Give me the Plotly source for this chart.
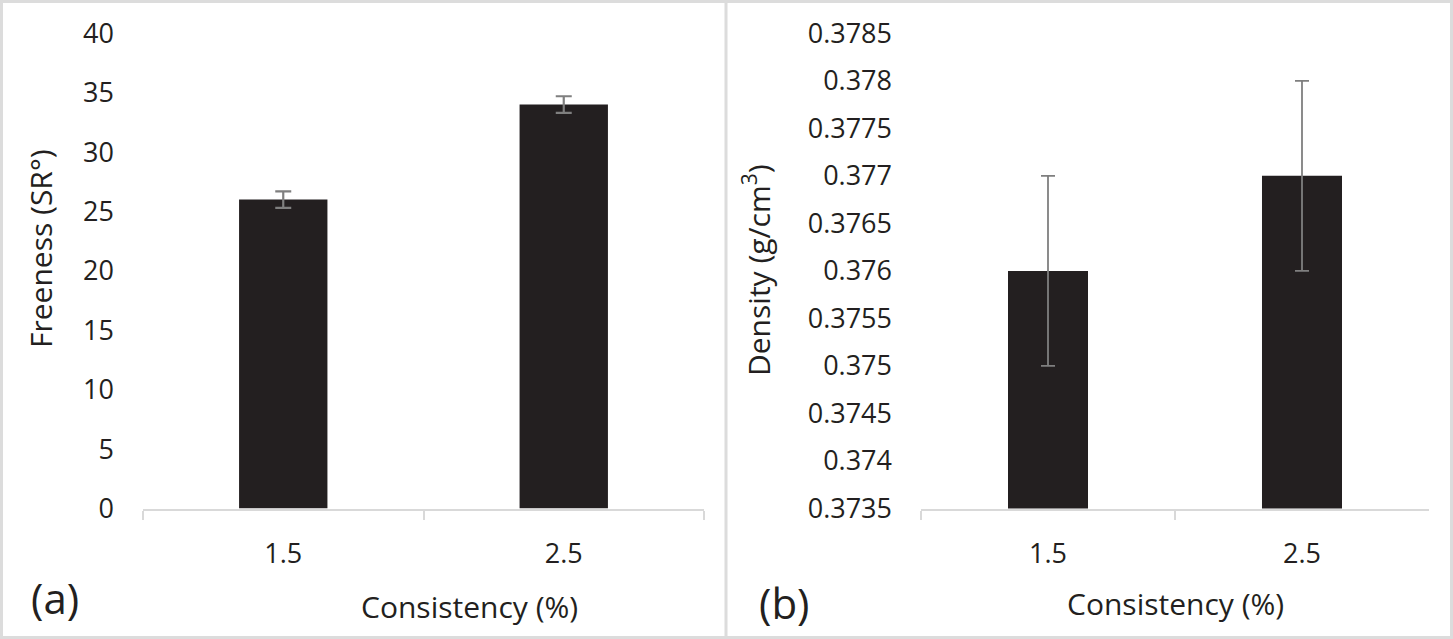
import plotly.graph_objects as go

# ---- data ----
consistency = ["1.5", "2.5"]
freeness = [26, 34]
freeness_err = [0.7, 0.7]
density = [0.376, 0.377]
density_err = [0.001, 0.001]

freeness_ticks = [0, 5, 10, 15, 20, 25, 30, 35, 40]
density_ticks = [0.3735, 0.374, 0.3745, 0.375, 0.3755, 0.376, 0.3765, 0.377, 0.3775, 0.378, 0.3785]
density_ticktext = ["0.3735", "0.374", "0.3745", "0.375", "0.3755", "0.376", "0.3765", "0.377", "0.3775", "0.378", "0.3785"]

W, H = 1453, 639
BAR = "#231f20"
ERR = "#7f7f7f"
AX = "#d9d9d9"
TXT = "#231f20"
FONT = "Open Sans"

fig = go.Figure()
fig.add_trace(go.Bar(
    x=consistency, y=freeness, marker=dict(color=BAR, line=dict(width=0)),
    error_y=dict(type="data", array=freeness_err, color=ERR, thickness=2.2, width=8),
    xaxis="x", yaxis="y", showlegend=False))
fig.add_trace(go.Bar(
    x=consistency, y=density, marker=dict(color=BAR, line=dict(width=0)),
    error_y=dict(type="data", array=density_err, color=ERR, thickness=1.8, width=7),
    xaxis="x2", yaxis="y2", showlegend=False))

ybot = 1 - 508.5 / H
ytop = 1 - 33.3 / H

xcommon = dict(type="category", showline=True, linecolor=AX, linewidth=2,
               ticks="outside", tickson="boundaries", ticklen=9, tickcolor=AX, tickwidth=2,
               showgrid=False, zeroline=False, ticklabelstandoff=20, automargin=False,
               tickfont=dict(family=FONT, size=27, color=TXT))
ycommon = dict(showline=False, showgrid=False, zeroline=False, ticks="", automargin=False,
               ticklabelstandoff=28, tickfont=dict(family=FONT, size=27, color=TXT))

fig.update_layout(
    template="none",
    width=W, height=H, margin=dict(l=0, r=0, t=0, b=0, pad=0),
    paper_bgcolor="white", plot_bgcolor="white", bargap=0.685,
    xaxis=dict(domain=[143 / W, 704 / W], anchor="y", **xcommon),
    yaxis=dict(domain=[ybot, ytop], anchor="x", range=[0, 40], tickvals=freeness_ticks, **ycommon),
    xaxis2=dict(domain=[921 / W, 1429 / W], anchor="y2", **xcommon),
    yaxis2=dict(domain=[ybot, ytop], anchor="x2", range=[0.3735, 0.3785],
                tickvals=density_ticks, ticktext=density_ticktext, **ycommon),
)

ann_font = dict(family=FONT, size=30, color=TXT)
fig.add_annotation(text="Freeness (SR°)", xref="paper", yref="paper", x=40 / W, y=1 - 249 / H,
                   textangle=-90, showarrow=False, font=ann_font, xanchor="center", yanchor="middle")
fig.add_annotation(text="Density (g/cm<sup>3</sup>)", xref="paper", yref="paper", x=757 / W, y=1 - 270 / H,
                   textangle=-90, showarrow=False, font=ann_font, xanchor="center", yanchor="middle")
fig.add_annotation(text="Consistency (%)", xref="paper", yref="paper", x=470 / W, y=1 - 606 / H,
                   showarrow=False, font=ann_font, xanchor="center", yanchor="middle")
fig.add_annotation(text="Consistency (%)", xref="paper", yref="paper", x=1175 / W, y=1 - 603 / H,
                   showarrow=False, font=ann_font, xanchor="center", yanchor="middle")
fig.add_annotation(text="(a)", xref="paper", yref="paper", x=55 / W, y=1 - 597 / H,
                   showarrow=False, font=dict(family=FONT, size=42, color=TXT), xanchor="center", yanchor="middle")
fig.add_annotation(text="(b)", xref="paper", yref="paper", x=784 / W, y=1 - 602 / H,
                   showarrow=False, font=dict(family=FONT, size=42, color=TXT), xanchor="center", yanchor="middle")

# panel frames
BORDER = "#dcdcdc"
fig.add_shape(type="rect", xref="paper", yref="paper", x0=1.5 / W, x1=1 - 1.5 / W, y0=1.5 / H, y1=1 - 1.5 / H,
              line=dict(color=BORDER, width=3))
fig.add_shape(type="line", xref="paper", yref="paper", x0=726 / W, x1=726 / W, y0=0, y1=1,
              line=dict(color=BORDER, width=3))

fig.write_html("out.html", config={"displayModeBar": False},
               post_script="document.body.style.margin='0';document.body.style.overflow='hidden';")
